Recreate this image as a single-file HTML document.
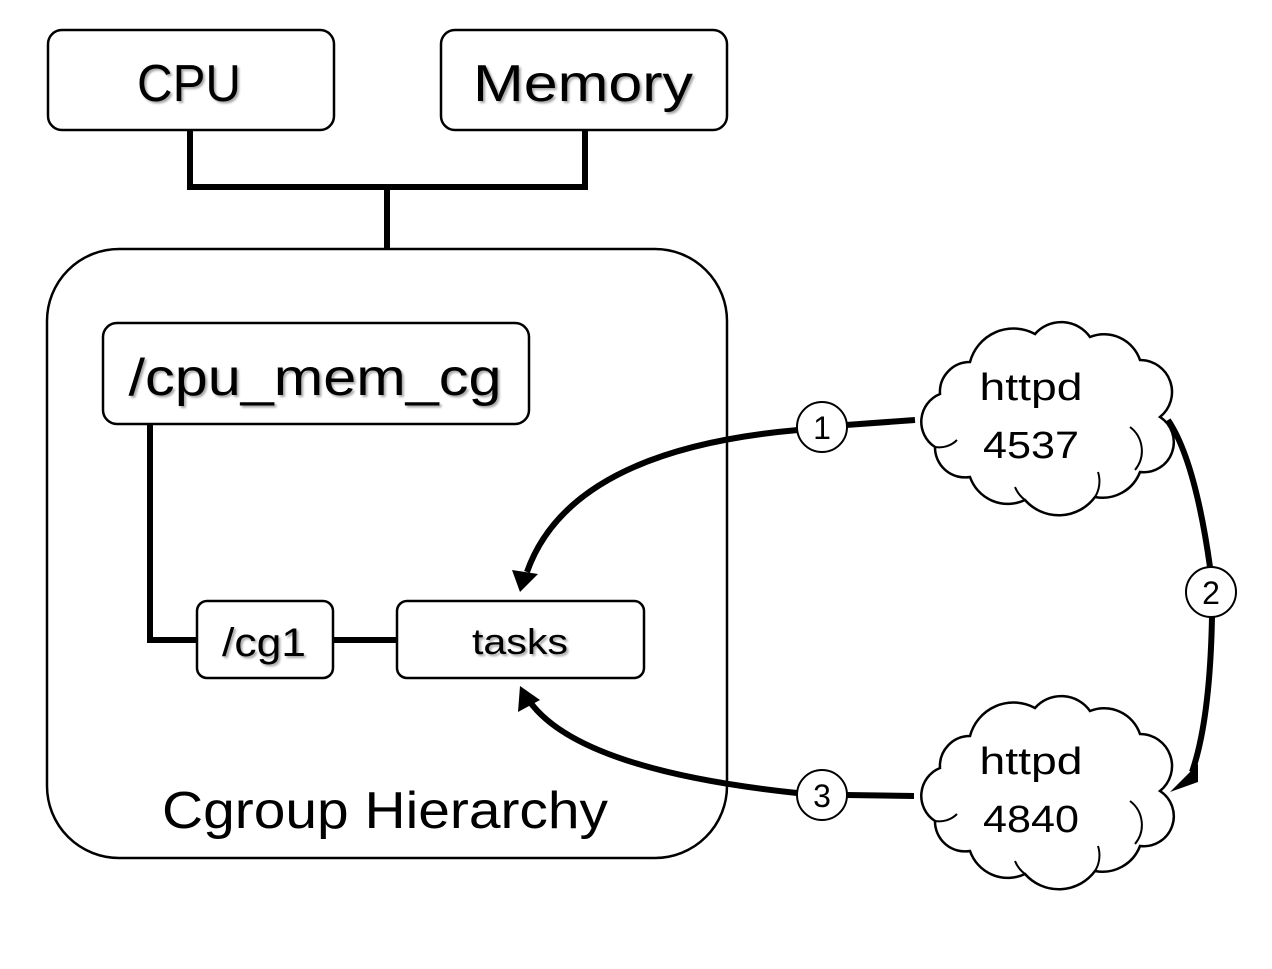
<!DOCTYPE html>
<html><head><style>
html,body{margin:0;padding:0;background:#fff;}
svg text{font-family:"Liberation Sans","DejaVu Sans",sans-serif;fill:#000;}
.sh{filter:drop-shadow(2px 2px 1px rgba(0,0,0,0.35));}
</style></head><body>
<svg width="1272" height="964" viewBox="0 0 1272 964" xmlns="http://www.w3.org/2000/svg">
<defs>
<g id="cloud">
<path d="M25,72 A30,30 0 0 1 55,40 A45,45 0 0 1 120,12 A35,35 0 0 1 175,15 A38,38 0 0 1 225,38 A32,32 0 0 1 245,95 A30,30 0 0 1 225,150 A40,40 0 0 1 180,175 A45,45 0 0 1 110,178 A40,40 0 0 1 55,155 A30,30 0 0 1 20,125 A30,30 0 0 1 25,72 Z" fill="#fff" stroke="#000" stroke-width="2.5"/>
<path d="M215,105 A30,30 0 0 1 220,148" fill="none" stroke="#000" stroke-width="2"/>
<path d="M20,125 A25,25 0 0 0 42,118" fill="none" stroke="#000" stroke-width="2"/>
<path d="M100,165 A30,30 0 0 0 110,178" fill="none" stroke="#000" stroke-width="2"/>
<path d="M180,175 A30,30 0 0 0 183,150" fill="none" stroke="#000" stroke-width="2"/>
</g>
</defs>
<g fill="#fff" stroke="#000" stroke-width="2.5">
<rect x="48" y="30" width="286" height="100" rx="14"/>
<rect x="441" y="30" width="286" height="100" rx="14"/>
<rect x="47" y="249" width="680" height="609" rx="72"/>
<rect x="103" y="323" width="426" height="101" rx="14"/>
<rect x="197" y="601" width="136" height="77" rx="10"/>
<rect x="397" y="601" width="247" height="77" rx="10"/>
</g>
<g fill="none" stroke="#000" stroke-width="6">
<polyline points="190,130 190,187 585,187 585,130"/>
<line x1="387" y1="187" x2="387" y2="249"/>
<polyline points="150,424 150,640 197,640"/>
<line x1="333" y1="640" x2="397" y2="640"/>
<path d="M915,420 L846,425"/>
<path d="M798,430 Q570,450 527,572"/>
<path d="M797,793 Q580,770 530,702"/>
<path d="M914,796 L846,795"/>
<path d="M1168,420 Q1195,460 1210,567"/>
<path d="M1212,617 Q1210,720 1192,772"/>
</g>
<polygon points="512,570 538,574 520,592" fill="#000"/>
<polygon points="520,686 518,712 540,700" fill="#000"/>
<polygon points="1170,792 1198,764 1198,782" fill="#000"/>
<g fill="#fff" stroke="#000" stroke-width="2">
<circle cx="822" cy="427" r="25"/>
<circle cx="1211" cy="592" r="25"/>
<circle cx="822" cy="795" r="25"/>
</g>
<use href="#cloud" x="915" y="322"/>
<use href="#cloud" x="915" y="696"/>
<g text-anchor="middle" lengthAdjust="spacingAndGlyphs">
<text class="sh" x="189" y="101" font-size="52" textLength="104" lengthAdjust="spacingAndGlyphs">CPU</text>
<text class="sh" x="583" y="101" font-size="52" textLength="220" lengthAdjust="spacingAndGlyphs">Memory</text>
<text class="sh" x="315" y="395" font-size="52" textLength="373" lengthAdjust="spacingAndGlyphs">/cpu_mem_cg</text>
<text class="sh" x="264" y="656" font-size="40" textLength="84" lengthAdjust="spacingAndGlyphs">/cg1</text>
<text class="sh" x="520" y="654" font-size="36" textLength="96" lengthAdjust="spacingAndGlyphs">tasks</text>
<text x="385" y="828" font-size="52" textLength="446" lengthAdjust="spacingAndGlyphs">Cgroup Hierarchy</text>
<text x="1031" y="400" font-size="38" textLength="103" lengthAdjust="spacingAndGlyphs">httpd</text>
<text x="1031" y="458" font-size="38" textLength="96" lengthAdjust="spacingAndGlyphs">4537</text>
<text x="1031" y="774" font-size="38" textLength="103" lengthAdjust="spacingAndGlyphs">httpd</text>
<text x="1031" y="832" font-size="38" textLength="96" lengthAdjust="spacingAndGlyphs">4840</text>
<text x="822" y="439" font-size="32">1</text>
<text x="1211" y="604" font-size="32">2</text>
<text x="822" y="807" font-size="32">3</text>
</g>
</svg>
</body></html>
